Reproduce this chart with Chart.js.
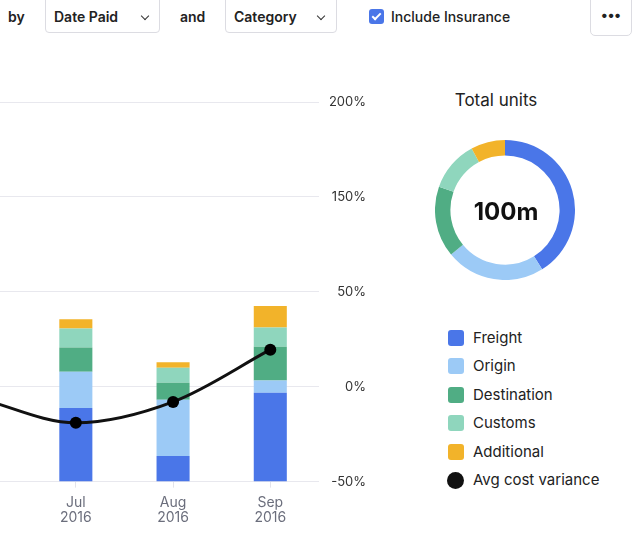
<!DOCTYPE html>
<html lang="en">
<head>
<meta charset="UTF-8">
<title>Total units by Date Paid</title>
<script src="https://cdn.jsdelivr.net/npm/chart.js"></script>
<style>
  html, body { margin: 0; padding: 0; background: #fff; }
  body {
    width: 639px; height: 541px; position: relative; overflow: hidden;
    font-family: Inter, "Noto Sans", sans-serif; color: #222;
  }
  .lbl { position: absolute; top: 8px; font-size: 14px; font-weight: 600; line-height: 18px; }
  .sel {
    position: absolute; top: -6px; height: 39px; box-sizing: border-box;
    border: 1px solid #dcdce2; border-radius: 4px; background: #fff;
  }
  .sel span { position: absolute; left: 8px; top: 13px; font-size: 14px; font-weight: 600; line-height: 18px; }
  .chev {
    position: absolute; top: 18px; width: 5px; height: 5px;
    border-right: 1.5px solid #333; border-bottom: 1.5px solid #333; transform: rotate(45deg);
  }
  .check {
    position: absolute; left: 369px; top: 9px; width: 15px; height: 15px;
    background: #4a76e8; border-radius: 3px;
  }
  .check::after {
    content: ""; position: absolute; left: 5px; top: 2px; width: 3px; height: 7px;
    border-right: 2px solid #fff; border-bottom: 2px solid #fff; transform: rotate(45deg);
  }
  #more {
    position: absolute; left: 590px; top: -6px; width: 42px; height: 42px; box-sizing: border-box;
    border: 1px solid #dcdce2; border-radius: 5px; text-align: center;
    font-size: 14px; font-weight: 700; line-height: 40px;
  }
  #mainWrap { position: absolute; left: -76px; top: 85px; width: 442px; height: 448px; }
  #donutWrap { position: absolute; left: 435px; top: 140px; width: 140px; height: 140px; }
  #donutTitle {
    position: absolute; left: 436px; top: 89px; width: 120px; text-align: center;
    font-size: 17px; line-height: 22px; color: #222;
  }
  #legend { position: absolute; left: 448px; top: 324px; margin: 0; padding: 0; list-style: none; }
  #legend li { position: relative; height: 28.4px; line-height: 28.4px; padding-left: 25px; font-size: 15px; color: #222; white-space: nowrap; }
  #legend i { position: absolute; left: 0; top: 6px; width: 16px; height: 16px; border-radius: 3px; }
</style>
</head>
<body>

  <div class="lbl" style="left:8px;">by</div>
  <div class="sel" style="left:45px; width:115px;"><span>Date Paid</span><div class="chev" style="left:96px;"></div></div>
  <div class="lbl" style="left:180px;">and</div>
  <div class="sel" style="left:225px; width:112px;"><span>Category</span><div class="chev" style="left:92px;"></div></div>
  <div class="check"></div>
  <div class="lbl" style="left:391px; font-weight:500;">Include Insurance</div>
  <div id="more">&bull;&bull;&bull;</div>

  <div id="mainWrap"><canvas id="mainChart"></canvas></div>

  <div id="donutTitle">Total units</div>
  <div id="donutWrap"><canvas id="donutChart"></canvas></div>
  <ul id="legend"></ul>

<script>
// months (Jun is only partly visible, off the left edge)
const months = [['Jun', '2016'], ['Jul', '2016'], ['Aug', '2016'], ['Sep', '2016']];

// units per category, millions
const freight     = [null, 16.1, 5.6, 19.4];
const origin      = [null, 7.9, 12.3, 2.7];
const destination = [null, 5.3, 3.7, 7.4];
const customs     = [null, 4.2, 3.3, 4.2];
const additional  = [null, 2.0, 1.2, 4.7];

// avg cost variance, %
const variance = [-6, -19, -8, 19.5];
const varianceTicks = ['-50%', '0%', '50%', '150%', '200%'];

const categories = ['Freight', 'Origin', 'Destination', 'Customs', 'Additional'];
const catColors = ['#4a76e8', '#9ccaf6', '#50ad84', '#8fd6bd', '#f2b32a'];
const lineName = 'Avg cost variance';
const lineColor = '#111111';

const series = [freight, origin, destination, customs, additional];
const font = 'Inter, "Noto Sans", sans-serif';

Chart.defaults.font.family = font;
Chart.defaults.animation = false;

// === bars + line ===
const barSets = categories.map((name, i) => ({
  type: 'bar',
  label: name,
  data: series[i],
  backgroundColor: catColors[i],
  yAxisID: 'yBar',
  barPercentage: 0.34,
  categoryPercentage: 1,
  order: 1
}));

new Chart(document.getElementById('mainChart'), {
  data: {
    labels: months,
    datasets: [{
      type: 'line',
      label: lineName,
      data: variance,
      borderColor: lineColor,
      borderWidth: 3,
      pointRadius: 6,
      pointBackgroundColor: '#000',
      pointBorderWidth: 0,
      cubicInterpolationMode: 'monotone',
      yAxisID: 'y',
      order: 0
    }, ...barSets]
  },
  options: {
    responsive: true,
    maintainAspectRatio: false,
    layout: { padding: { top: 17, left: 0, right: 0, bottom: 0 } },
    plugins: { legend: { display: false }, tooltip: { enabled: false } },
    scales: {
      x: {
        stacked: true,
        offset: true,
        grid: { offset: false, drawOnChartArea: false, color: '#e3e3ea', tickLength: 6 },
        border: { display: false },
        ticks: { color: '#6b6e7c', font: { size: 14, lineHeight: 1.05 }, padding: 8, maxRotation: 0 }
      },
      yBar: { stacked: true, display: false, min: 0, max: 83 },
      y: {
        position: 'right',
        min: -50, max: 150,
        grid: { color: '#e8e8ee', drawTicks: false, tickLength: 0 },
        border: { display: false },
        ticks: {
          stepSize: 50, padding: 5, crossAlign: 'far', color: '#333',
          font: { size: 13 },
          callback: (v, i) => varianceTicks[i]
        }
      }
    }
  }
});

// === donut: totals per category ===
const totals = series.map(s => s.reduce((a, b) => a + (b || 0), 0));
const grandTotal = totals.reduce((a, b) => a + b, 0);

const centerText = {
  id: 'centerText',
  afterDraw(chart) {
    const { ctx, chartArea } = chart;
    ctx.save();
    ctx.font = '700 24px ' + font;
    ctx.fillStyle = '#111';
    ctx.textAlign = 'center';
    ctx.textBaseline = 'middle';
    ctx.fillText(Math.round(grandTotal) + 'm', (chartArea.left + chartArea.right) / 2 + 1, (chartArea.top + chartArea.bottom) / 2 + 3);
    ctx.restore();
  }
};

new Chart(document.getElementById('donutChart'), {
  type: 'doughnut',
  data: {
    labels: categories,
    datasets: [{ data: totals, backgroundColor: catColors, borderWidth: 0 }]
  },
  options: {
    responsive: true,
    maintainAspectRatio: false,
    cutout: '78%',
    plugins: { legend: { display: false }, tooltip: { enabled: false } }
  },
  plugins: [centerText]
});

// legend
const legend = document.getElementById('legend');
categories.concat([lineName]).forEach((name, i) => {
  const li = document.createElement('li');
  const sw = document.createElement('i');
  if (i < categories.length) {
    sw.style.background = catColors[i];
  } else {
    sw.style.background = lineColor;
    sw.style.borderRadius = '50%';
    sw.style.width = '17px'; sw.style.height = '17px'; sw.style.left = '-1px';
  }
  li.appendChild(sw);
  li.appendChild(document.createTextNode(name));
  legend.appendChild(li);
});
</script>
</body>
</html>
